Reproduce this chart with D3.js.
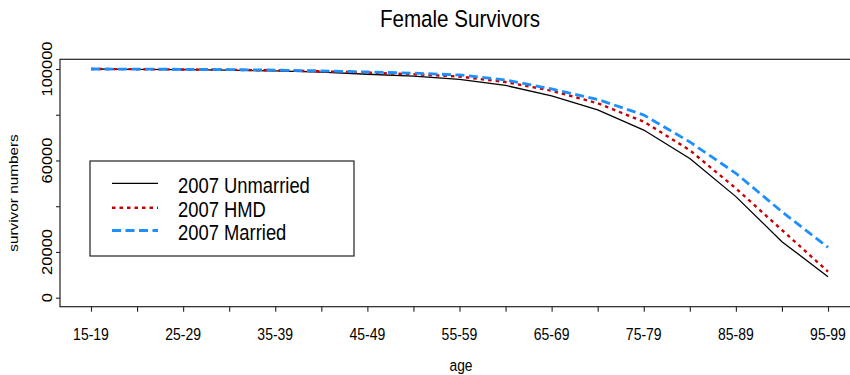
<!DOCTYPE html>
<html>
<head>
<meta charset="utf-8">
<script src="https://cdn.jsdelivr.net/npm/d3@7"></script>
<style>
  html, body { margin: 0; padding: 0; background: #fff; }
  svg { display: block; }
  text { font-family: "Liberation Sans", Arial, sans-serif; fill: #000; }
</style>
</head>
<body>
<svg id="chart" width="850" height="375"></svg>
<script>
// Age groups (5-year bands)
const ageGroups = ["15-19","20-24","25-29","30-34","35-39","40-44","45-49","50-54",
  "55-59","60-64","65-69","70-74","75-79","80-84","85-89","90-94","95-99"];

// Survivors out of 100000 at the start of each age band
const unmarried = [100000, 99870, 99700, 99480, 99150, 98600, 97700, 96900,
  95500, 92800, 88300, 82100, 73300, 60900, 44200, 24500, 9200];
const hmd = [100000, 99920, 99800, 99640, 99400, 99000, 98400, 97700,
  96700, 94300, 90500, 85000, 77000, 64500, 47800, 29600, 11400];
const married = [100000, 99950, 99860, 99720, 99520, 99200, 98700, 98200,
  97400, 95200, 91300, 86700, 79900, 68100, 54400, 37600, 22000];

const yTicks = [0, 20000, 40000, 60000, 80000, 100000];
const yTickLabels = [0, 20000, 60000, 100000];
const xTickLabels = ageGroups.filter((d, i) => i % 2 === 0);

const series = [
  { name: "2007 Unmarried", values: unmarried, color: "#000000", width: 1.3, dash: null },
  { name: "2007 HMD", values: hmd, color: "#c80000", width: 2.4, dash: "3.5,4" },
  { name: "2007 Married", values: married, color: "#1e8fff", width: 2.8, dash: "9,4.5" }
];

const SY = 1.18; // vertical text stretch
const svg = d3.select("#chart");

const box = { left: 60, top: 59.3, right: 859, bottom: 306.7 };

const x = d3.scalePoint().domain(ageGroups).range([91, 828]);
const y = d3.scaleLinear().domain([0, 100000]).range([297.7, 69]);

function label(g, txt, px, py, size, anchor, rotate) {
  const t = g.append("text")
    .attr("transform", `translate(${px},${py}) scale(1,${SY})` + (rotate ? ` rotate(${rotate})` : ""))
    .attr("text-anchor", anchor)
    .style("font-size", size + "px")
    .text(txt);
  return t;
}

// plot frame
svg.append("rect")
  .attr("x", box.left).attr("y", box.top)
  .attr("width", box.right - box.left).attr("height", box.bottom - box.top)
  .attr("fill", "none").attr("stroke", "#222").attr("stroke-width", 1.2);

// axes (ticks only, labels placed separately)
const gx = svg.append("g").attr("transform", `translate(0,${box.bottom})`)
  .call(d3.axisBottom(x).tickSize(5).tickFormat(""));
gx.select(".domain").remove();
gx.selectAll(".tick line").attr("stroke", "#222").attr("stroke-width", 1.1);

const gy = svg.append("g").attr("transform", `translate(${box.left},0)`)
  .call(d3.axisLeft(y).tickValues(yTicks).tickSize(4).tickFormat(""));
gy.select(".domain").remove();
gy.selectAll(".tick line").attr("stroke", "#222").attr("stroke-width", 1.1);

const labels = svg.append("g");
xTickLabels.forEach(d => label(labels, d, x(d), 340, 14, "middle"));
yTickLabels.forEach(v => label(labels, String(v), 52, y(v), 14, "middle", -90));

// titles
label(labels, "Female Survivors", 460, 27, 20.6, "middle");
label(labels, "age", 461, 371, 13.8, "middle");
label(labels, "survivor numbers", 18, 193, 13, "middle", -90);

// series lines
const line = d3.line().x((d, i) => x(ageGroups[i])).y(d => y(d));
series.forEach(s => {
  svg.append("path")
    .datum(s.values)
    .attr("d", line)
    .attr("fill", "none")
    .attr("stroke", s.color)
    .attr("stroke-width", s.width)
    .attr("stroke-dasharray", s.dash);
});

// legend
const lg = svg.append("g");
lg.append("rect")
  .attr("x", 90).attr("y", 161).attr("width", 264).attr("height", 95)
  .attr("fill", "#fff").attr("stroke", "#222").attr("stroke-width", 1.2);
const rows = [183.3, 207.7, 230.5];
series.forEach((s, i) => {
  lg.append("line")
    .attr("x1", 112).attr("x2", 158)
    .attr("y1", rows[i]).attr("y2", rows[i])
    .attr("stroke", s.color)
    .attr("stroke-width", s.width)
    .attr("stroke-dasharray", s.dash);
  label(lg, s.name, 178, rows[i] + 9.5, 18.4, "start");
});
</script>
</body>
</html>
